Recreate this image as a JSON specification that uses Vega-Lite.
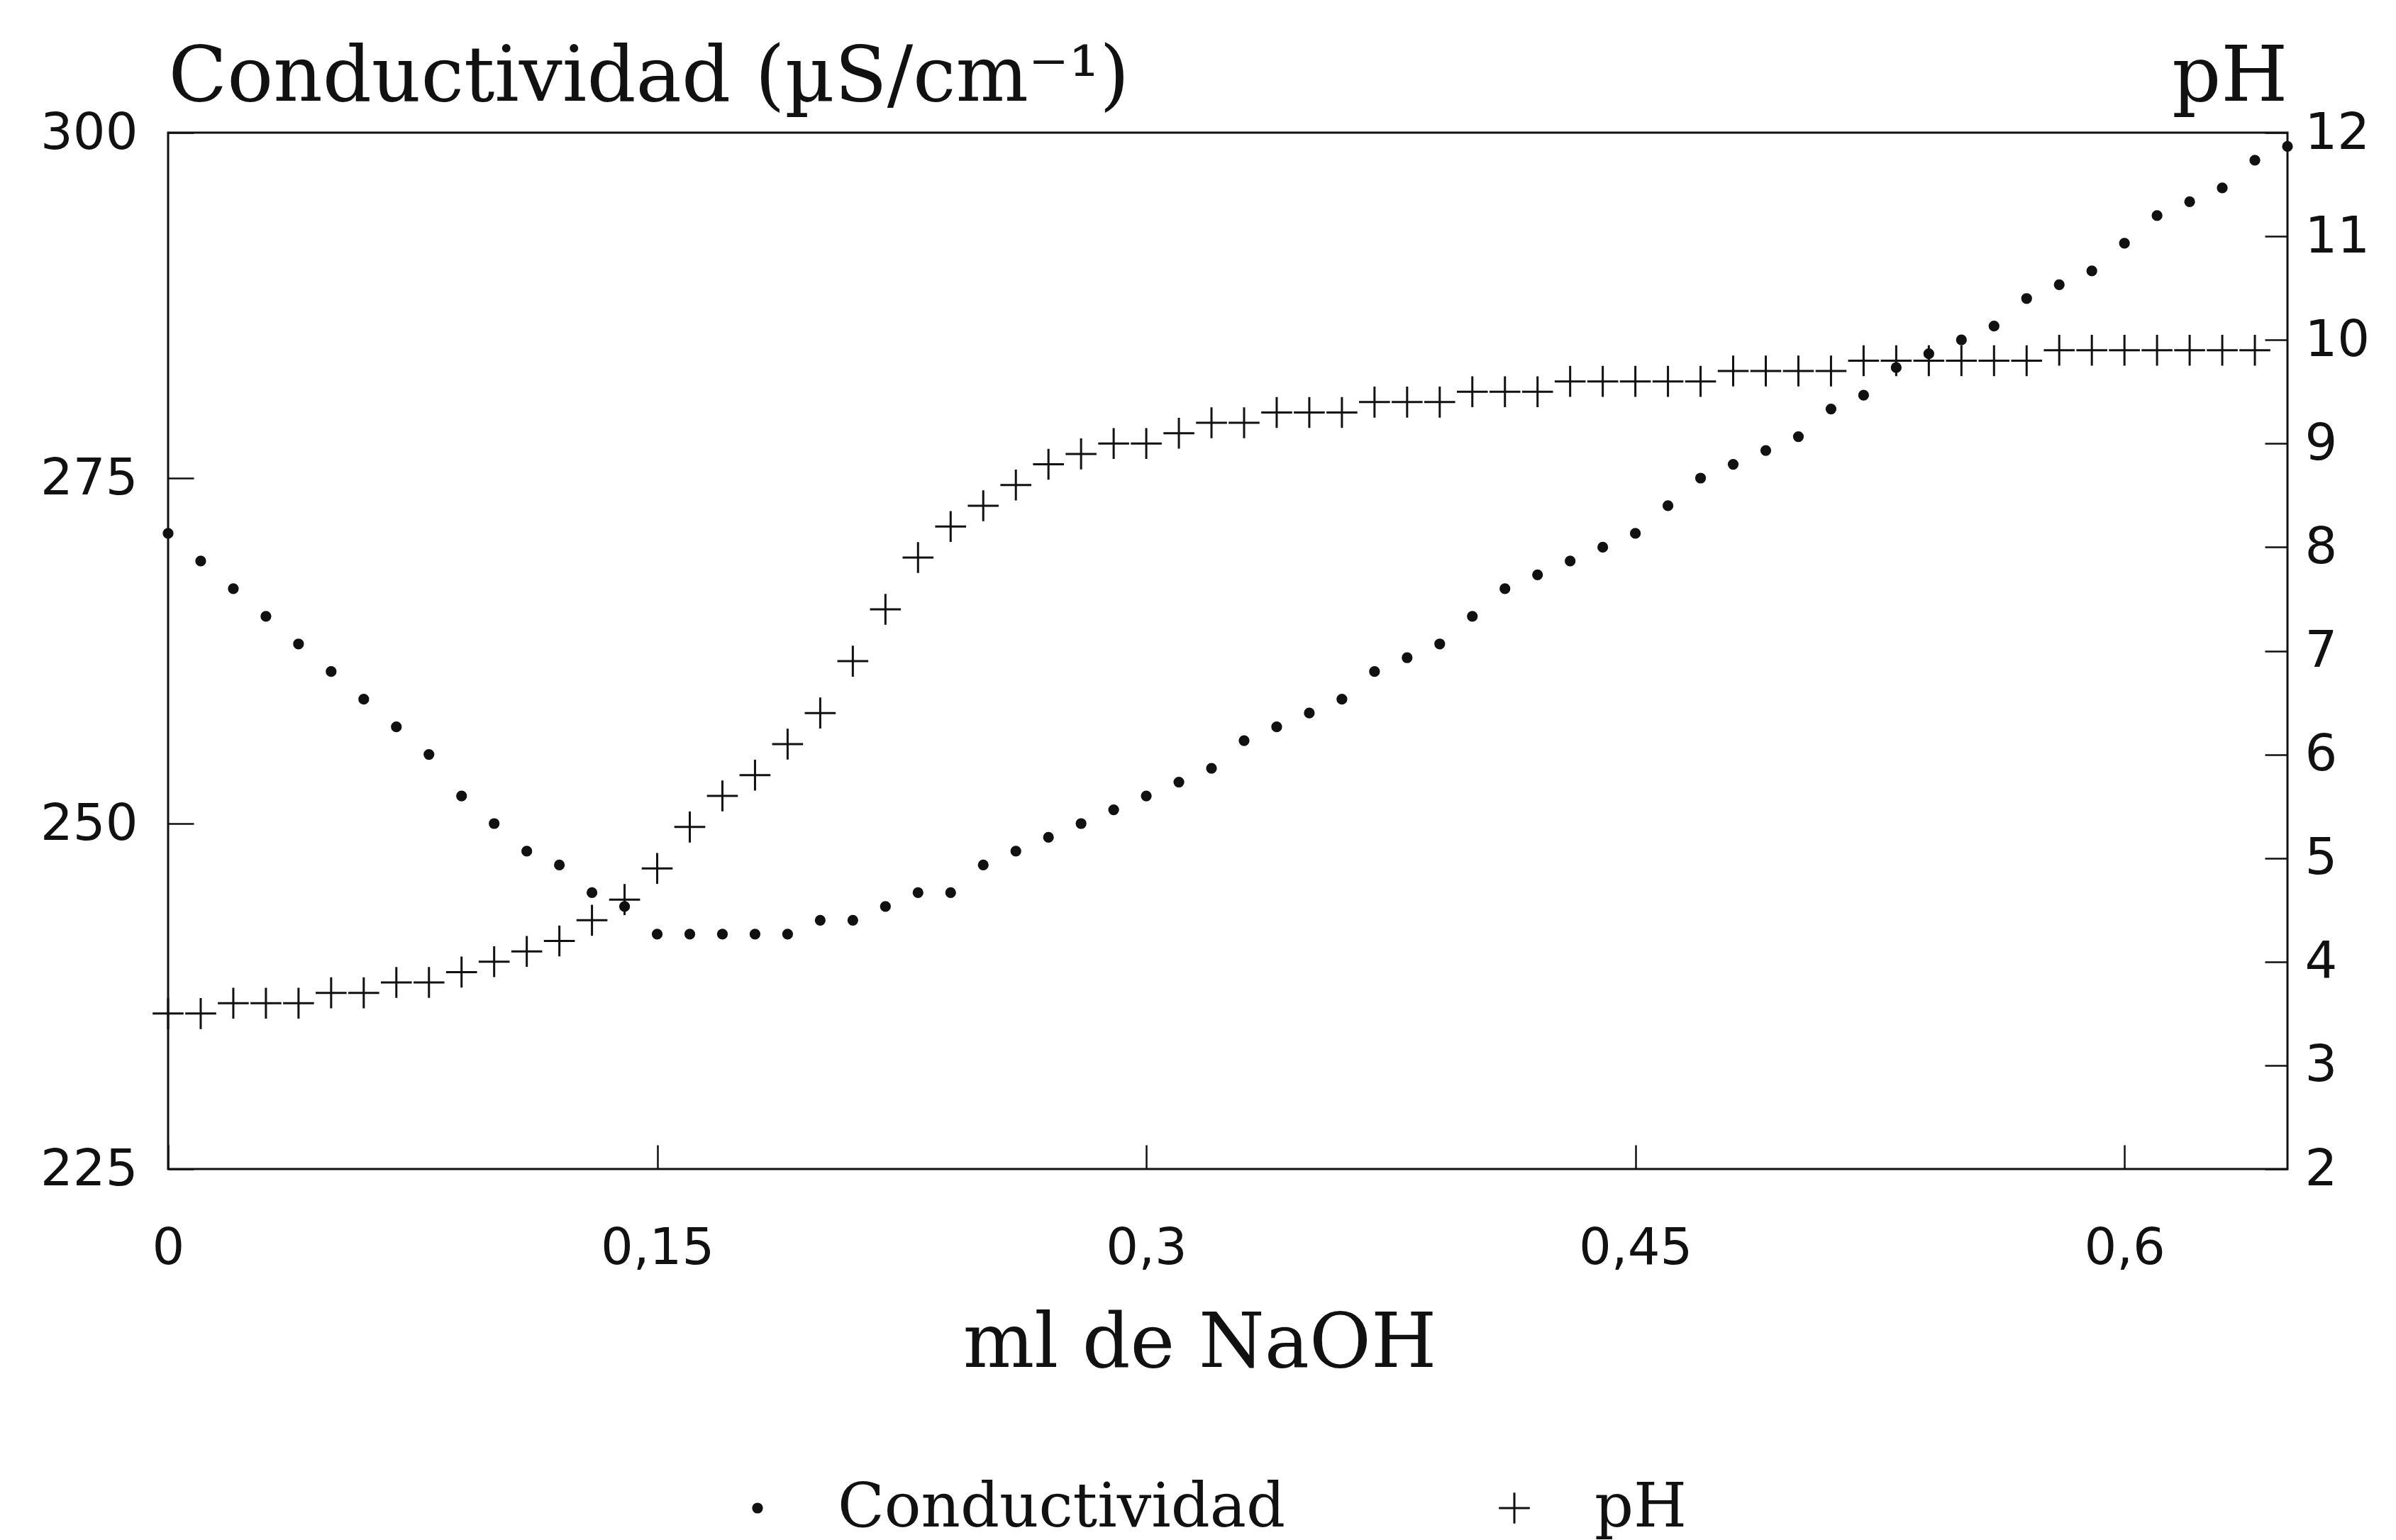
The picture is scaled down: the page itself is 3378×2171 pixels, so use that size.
{
  "$schema": "https://vega.github.io/schema/vega-lite/v6.json",
  "width": 2988,
  "height": 1461,
  "autosize": {"type": "none"},
  "padding": {"left": 237, "top": 187, "right": 153, "bottom": 523},
  "background": "white",
  "config": {
    "view": {"stroke": "#111", "strokeWidth": 3},
    "axis": {
      "grid": false,
      "domain": false,
      "labelFont": "DejaVu Sans",
      "labelFontSize": 72,
      "labelColor": "#111",
      "tickColor": "#111",
      "tickWidth": 2.5,
      "titleFont": "DejaVu Serif",
      "titleFontWeight": "normal",
      "titleColor": "#111"
    }
  },
  "datasets": {
    "valoracion": [
      {"ml": 0.00, "serie": "Conductividad", "valor": 271},
      {"ml": 0.01, "serie": "Conductividad", "valor": 269},
      {"ml": 0.02, "serie": "Conductividad", "valor": 267},
      {"ml": 0.03, "serie": "Conductividad", "valor": 265},
      {"ml": 0.04, "serie": "Conductividad", "valor": 263},
      {"ml": 0.05, "serie": "Conductividad", "valor": 261},
      {"ml": 0.06, "serie": "Conductividad", "valor": 259},
      {"ml": 0.07, "serie": "Conductividad", "valor": 257},
      {"ml": 0.08, "serie": "Conductividad", "valor": 255},
      {"ml": 0.09, "serie": "Conductividad", "valor": 252},
      {"ml": 0.10, "serie": "Conductividad", "valor": 250},
      {"ml": 0.11, "serie": "Conductividad", "valor": 248},
      {"ml": 0.12, "serie": "Conductividad", "valor": 247},
      {"ml": 0.13, "serie": "Conductividad", "valor": 245},
      {"ml": 0.14, "serie": "Conductividad", "valor": 244},
      {"ml": 0.15, "serie": "Conductividad", "valor": 242},
      {"ml": 0.16, "serie": "Conductividad", "valor": 242},
      {"ml": 0.17, "serie": "Conductividad", "valor": 242},
      {"ml": 0.18, "serie": "Conductividad", "valor": 242},
      {"ml": 0.19, "serie": "Conductividad", "valor": 242},
      {"ml": 0.20, "serie": "Conductividad", "valor": 243},
      {"ml": 0.21, "serie": "Conductividad", "valor": 243},
      {"ml": 0.22, "serie": "Conductividad", "valor": 244},
      {"ml": 0.23, "serie": "Conductividad", "valor": 245},
      {"ml": 0.24, "serie": "Conductividad", "valor": 245},
      {"ml": 0.25, "serie": "Conductividad", "valor": 247},
      {"ml": 0.26, "serie": "Conductividad", "valor": 248},
      {"ml": 0.27, "serie": "Conductividad", "valor": 249},
      {"ml": 0.28, "serie": "Conductividad", "valor": 250},
      {"ml": 0.29, "serie": "Conductividad", "valor": 251},
      {"ml": 0.30, "serie": "Conductividad", "valor": 252},
      {"ml": 0.31, "serie": "Conductividad", "valor": 253},
      {"ml": 0.32, "serie": "Conductividad", "valor": 254},
      {"ml": 0.33, "serie": "Conductividad", "valor": 256},
      {"ml": 0.34, "serie": "Conductividad", "valor": 257},
      {"ml": 0.35, "serie": "Conductividad", "valor": 258},
      {"ml": 0.36, "serie": "Conductividad", "valor": 259},
      {"ml": 0.37, "serie": "Conductividad", "valor": 261},
      {"ml": 0.38, "serie": "Conductividad", "valor": 262},
      {"ml": 0.39, "serie": "Conductividad", "valor": 263},
      {"ml": 0.40, "serie": "Conductividad", "valor": 265},
      {"ml": 0.41, "serie": "Conductividad", "valor": 267},
      {"ml": 0.42, "serie": "Conductividad", "valor": 268},
      {"ml": 0.43, "serie": "Conductividad", "valor": 269},
      {"ml": 0.44, "serie": "Conductividad", "valor": 270},
      {"ml": 0.45, "serie": "Conductividad", "valor": 271},
      {"ml": 0.46, "serie": "Conductividad", "valor": 273},
      {"ml": 0.47, "serie": "Conductividad", "valor": 275},
      {"ml": 0.48, "serie": "Conductividad", "valor": 276},
      {"ml": 0.49, "serie": "Conductividad", "valor": 277},
      {"ml": 0.50, "serie": "Conductividad", "valor": 278},
      {"ml": 0.51, "serie": "Conductividad", "valor": 280},
      {"ml": 0.52, "serie": "Conductividad", "valor": 281},
      {"ml": 0.53, "serie": "Conductividad", "valor": 283},
      {"ml": 0.54, "serie": "Conductividad", "valor": 284},
      {"ml": 0.55, "serie": "Conductividad", "valor": 285},
      {"ml": 0.56, "serie": "Conductividad", "valor": 286},
      {"ml": 0.57, "serie": "Conductividad", "valor": 288},
      {"ml": 0.58, "serie": "Conductividad", "valor": 289},
      {"ml": 0.59, "serie": "Conductividad", "valor": 290},
      {"ml": 0.60, "serie": "Conductividad", "valor": 292},
      {"ml": 0.61, "serie": "Conductividad", "valor": 294},
      {"ml": 0.62, "serie": "Conductividad", "valor": 295},
      {"ml": 0.63, "serie": "Conductividad", "valor": 296},
      {"ml": 0.64, "serie": "Conductividad", "valor": 298},
      {"ml": 0.65, "serie": "Conductividad", "valor": 299},
      {"ml": 0.00, "serie": "pH", "valor": 3.5},
      {"ml": 0.01, "serie": "pH", "valor": 3.5},
      {"ml": 0.02, "serie": "pH", "valor": 3.6},
      {"ml": 0.03, "serie": "pH", "valor": 3.6},
      {"ml": 0.04, "serie": "pH", "valor": 3.6},
      {"ml": 0.05, "serie": "pH", "valor": 3.7},
      {"ml": 0.06, "serie": "pH", "valor": 3.7},
      {"ml": 0.07, "serie": "pH", "valor": 3.8},
      {"ml": 0.08, "serie": "pH", "valor": 3.8},
      {"ml": 0.09, "serie": "pH", "valor": 3.9},
      {"ml": 0.10, "serie": "pH", "valor": 4.0},
      {"ml": 0.11, "serie": "pH", "valor": 4.1},
      {"ml": 0.12, "serie": "pH", "valor": 4.2},
      {"ml": 0.13, "serie": "pH", "valor": 4.4},
      {"ml": 0.14, "serie": "pH", "valor": 4.6},
      {"ml": 0.15, "serie": "pH", "valor": 4.9},
      {"ml": 0.16, "serie": "pH", "valor": 5.3},
      {"ml": 0.17, "serie": "pH", "valor": 5.6},
      {"ml": 0.18, "serie": "pH", "valor": 5.8},
      {"ml": 0.19, "serie": "pH", "valor": 6.1},
      {"ml": 0.20, "serie": "pH", "valor": 6.4},
      {"ml": 0.21, "serie": "pH", "valor": 6.9},
      {"ml": 0.22, "serie": "pH", "valor": 7.4},
      {"ml": 0.23, "serie": "pH", "valor": 7.9},
      {"ml": 0.24, "serie": "pH", "valor": 8.2},
      {"ml": 0.25, "serie": "pH", "valor": 8.4},
      {"ml": 0.26, "serie": "pH", "valor": 8.6},
      {"ml": 0.27, "serie": "pH", "valor": 8.8},
      {"ml": 0.28, "serie": "pH", "valor": 8.9},
      {"ml": 0.29, "serie": "pH", "valor": 9.0},
      {"ml": 0.30, "serie": "pH", "valor": 9.0},
      {"ml": 0.31, "serie": "pH", "valor": 9.1},
      {"ml": 0.32, "serie": "pH", "valor": 9.2},
      {"ml": 0.33, "serie": "pH", "valor": 9.2},
      {"ml": 0.34, "serie": "pH", "valor": 9.3},
      {"ml": 0.35, "serie": "pH", "valor": 9.3},
      {"ml": 0.36, "serie": "pH", "valor": 9.3},
      {"ml": 0.37, "serie": "pH", "valor": 9.4},
      {"ml": 0.38, "serie": "pH", "valor": 9.4},
      {"ml": 0.39, "serie": "pH", "valor": 9.4},
      {"ml": 0.40, "serie": "pH", "valor": 9.5},
      {"ml": 0.41, "serie": "pH", "valor": 9.5},
      {"ml": 0.42, "serie": "pH", "valor": 9.5},
      {"ml": 0.43, "serie": "pH", "valor": 9.6},
      {"ml": 0.44, "serie": "pH", "valor": 9.6},
      {"ml": 0.45, "serie": "pH", "valor": 9.6},
      {"ml": 0.46, "serie": "pH", "valor": 9.6},
      {"ml": 0.47, "serie": "pH", "valor": 9.6},
      {"ml": 0.48, "serie": "pH", "valor": 9.7},
      {"ml": 0.49, "serie": "pH", "valor": 9.7},
      {"ml": 0.50, "serie": "pH", "valor": 9.7},
      {"ml": 0.51, "serie": "pH", "valor": 9.7},
      {"ml": 0.52, "serie": "pH", "valor": 9.8},
      {"ml": 0.53, "serie": "pH", "valor": 9.8},
      {"ml": 0.54, "serie": "pH", "valor": 9.8},
      {"ml": 0.55, "serie": "pH", "valor": 9.8},
      {"ml": 0.56, "serie": "pH", "valor": 9.8},
      {"ml": 0.57, "serie": "pH", "valor": 9.8},
      {"ml": 0.58, "serie": "pH", "valor": 9.9},
      {"ml": 0.59, "serie": "pH", "valor": 9.9},
      {"ml": 0.60, "serie": "pH", "valor": 9.9},
      {"ml": 0.61, "serie": "pH", "valor": 9.9},
      {"ml": 0.62, "serie": "pH", "valor": 9.9},
      {"ml": 0.63, "serie": "pH", "valor": 9.9},
      {"ml": 0.64, "serie": "pH", "valor": 9.9}
    ]
  },
  "data": {"name": "valoracion"},
  "encoding": {
    "x": {
      "field": "ml",
      "type": "quantitative",
      "scale": {"domain": [0, 0.65], "nice": false, "zero": false},
      "axis": {
        "orient": "bottom",
        "values": [0, 0.15, 0.3, 0.45, 0.6],
        "labelExpr": "replace(format(datum.value, '.2~f'), '.', ',')",
        "tickSize": -34,
        "labelPadding": 110,
        "labelFlush": false,
        "title": "ml de NaOH",
        "titleFontSize": 106,
        "titleAngle": 0,
        "titleAlign": "center",
        "titleBaseline": "alphabetic",
        "titleX": 1454,
        "titleY": 278
      }
    },
    "shape": {
      "field": "serie",
      "type": "nominal",
      "scale": {"domain": ["Conductividad", "pH"], "range": ["circle", "M-1,0H1M0,-1V1"]},
      "legend": {
        "title": null,
        "orient": "none",
        "direction": "horizontal",
        "legendX": 788,
        "legendY": 1896,
        "padding": 0,
        "labelFont": "DejaVu Serif",
        "labelFontSize": 86,
        "labelColor": "#111",
        "labelOffset": 70,
        "labelLimit": 0,
        "columnPadding": 279,
        "symbolFillColor": "#111",
        "symbolStrokeColor": "#111",
        "symbolStrokeWidth": 3
      }
    },
    "size": {
      "field": "serie",
      "type": "nominal",
      "scale": {"domain": ["Conductividad", "pH"], "range": [150, 1900]}
    }
  },
  "layer": [
    {
      "transform": [{"filter": "datum.serie == 'Conductividad'"}],
      "mark": {"type": "point", "filled": true, "fill": "#111", "stroke": "#111", "strokeWidth": 3, "opacity": 1, "clip": false},
      "encoding": {
        "y": {
          "field": "valor",
          "type": "quantitative",
          "scale": {"domain": [225, 300], "nice": false, "zero": false},
          "axis": {
            "orient": "left",
            "values": [225, 250, 275, 300],
            "tickSize": -36,
            "labelPadding": 79,
            "labelFlush": false,
            "title": "Conductividad (µS/cm⁻¹)",
            "titleFontSize": 108,
            "titleAngle": 0,
            "titleAlign": "left",
            "titleBaseline": "alphabetic",
            "titleX": 0,
            "titleY": -46
          }
        }
      }
    },
    {
      "transform": [{"filter": "datum.serie == 'pH'"}],
      "mark": {"type": "point", "filled": true, "fill": "#111", "stroke": "#111", "strokeWidth": 3, "opacity": 1, "clip": false},
      "encoding": {
        "y": {
          "field": "valor",
          "type": "quantitative",
          "scale": {"domain": [2, 12], "nice": false, "zero": false},
          "axis": {
            "orient": "right",
            "values": [2, 3, 4, 5, 6, 7, 8, 9, 10, 11, 12],
            "format": "d",
            "tickSize": -32,
            "labelPadding": 56,
            "labelFlush": false,
            "title": "pH",
            "titleFontSize": 108,
            "titleAngle": 0,
            "titleAlign": "right",
            "titleBaseline": "alphabetic",
            "titleX": 0,
            "titleY": -46
          }
        }
      }
    }
  ],
  "resolve": {"scale": {"y": "independent"}, "axis": {"y": "independent"}}
}
